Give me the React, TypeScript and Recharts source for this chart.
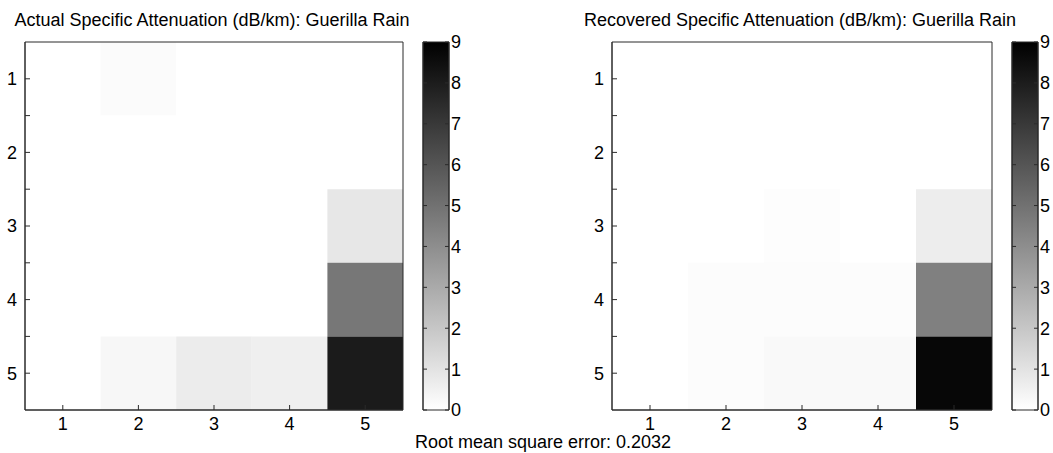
import { ComposedChart, XAxis, YAxis, Scatter, ReferenceArea } from 'recharts';

const cols = [1, 2, 3, 4, 5];
const rows = [1, 2, 3, 4, 5];
const halfTicks = [1, 1.5, 2, 2.5, 3, 3.5, 4, 4.5, 5];
const colorbarTicks = [0, 1, 2, 3, 4, 5, 6, 7, 8, 9];
const cMax = 9;

// dB/km, one row per y index
const actual = [
  [0, 0.15, 0, 0, 0],
  [0, 0, 0, 0, 0],
  [0, 0, 0, 0, 0.85],
  [0, 0, 0, 0, 4.8],
  [0, 0.28, 0.67, 0.56, 8.05],
];
const recovered = [
  [0, 0, 0, 0, 0],
  [0, 0, 0, 0, 0],
  [0, 0, 0.08, 0, 0.64],
  [0, 0.1, 0.1, 0.1, 4.48],
  [0, 0.1, 0.22, 0.22, 8.75],
];

const leftTitle = 'Actual Specific Attenuation (dB/km): Guerilla Rain';
const rightTitle = 'Recovered Specific Attenuation (dB/km): Guerilla Rain';
const rmseText = 'Root mean square error: 0.2032';

const font = '"Liberation Sans", Arial, sans-serif';
const frame = '#2b2b2b';
const tickFont = { fill: '#000', fontSize: 18 };

const gray = (v: number) => {
  const g = Math.round(255 * (1 - Math.min(v, cMax) / cMax));
  return `rgb(${g},${g},${g})`;
};

const noShape = () => <g />;

const Heatmap = ({ grid, rightMargin }: { grid: number[][]; rightMargin: number }) => {
  const cells = rows.flatMap((r, i) => cols.map((c, j) => ({ x: c, y: r, v: grid[i][j] })));
  return (
    <ComposedChart width={420} height={440} margin={{ top: 42, right: rightMargin, bottom: 5, left: 0 }}>
      <XAxis xAxisId="b" type="number" dataKey="x" domain={[0.5, 5.5]} ticks={cols} tickSize={-5} tickMargin={12}
        stroke={frame} tick={tickFont} height={25} />
      <XAxis xAxisId="t" orientation="top" type="number" dataKey="x" domain={[0.5, 5.5]} ticks={cols} tickSize={-5}
        stroke={frame} tickFormatter={() => ''} height={0} />
      <YAxis yAxisId="l" type="number" dataKey="y" domain={[0.5, 5.5]} reversed ticks={halfTicks} tickSize={-5}
        tickMargin={13} width={25} stroke={frame} tick={tickFont} interval={0}
        tickFormatter={(v: number) => (Number.isInteger(v) ? String(v) : '')} />
      <YAxis yAxisId="r" orientation="right" type="number" dataKey="y" domain={[0.5, 5.5]} reversed ticks={halfTicks}
        tickSize={-5} width={0} stroke={frame} interval={0} tickFormatter={() => ''} />
      {cells.map((d) => (
        <ReferenceArea key={`${d.x}-${d.y}`} xAxisId="b" yAxisId="l" x1={d.x - 0.5} x2={d.x + 0.5}
          y1={d.y - 0.5} y2={d.y + 0.5} fill={gray(d.v)} fillOpacity={1} stroke="none" />
      ))}
      <ReferenceArea xAxisId="b" yAxisId="l" x1={0.5} x2={5.5} y1={0.5} y2={5.5} fill="none" stroke={frame} />
      <Scatter xAxisId="b" yAxisId="l" data={cells} isAnimationActive={false} shape={noShape} />
      <Scatter xAxisId="t" yAxisId="r" data={cells} isAnimationActive={false} shape={noShape} />
    </ComposedChart>
  );
};

const Colorbar = ({ id }: { id: string }) => {
  const bar = [{ x: 0.5, y: 0 }, { x: 0.5, y: cMax }];
  return (
    <ComposedChart width={60} height={440} margin={{ top: 42, right: 0, bottom: 30, left: 0 }}>
      <defs>
        <linearGradient id={id} x1="0" y1="0" x2="0" y2="1">
          <stop offset="0%" stopColor="#000" />
          <stop offset="100%" stopColor="#fff" />
        </linearGradient>
      </defs>
      <XAxis xAxisId="c" type="number" dataKey="x" domain={[0, 1]} hide />
      <YAxis yAxisId="cl" type="number" dataKey="y" domain={[0, cMax]} ticks={colorbarTicks} tickSize={-4}
        width={5} stroke={frame} interval={0} tickFormatter={() => ''} />
      <YAxis yAxisId="cr" orientation="right" type="number" dataKey="y" domain={[0, cMax]} ticks={colorbarTicks}
        tickSize={-4} tickMargin={6} width={29} stroke={frame} tick={tickFont} interval={0} />
      <ReferenceArea xAxisId="c" yAxisId="cl" x1={0} x2={1} y1={0} y2={cMax} fill={`url(#${id})`}
        fillOpacity={1} stroke={frame} />
      <Scatter xAxisId="c" yAxisId="cl" data={bar} isAnimationActive={false} shape={noShape} />
      <Scatter xAxisId="c" yAxisId="cr" data={bar} isAnimationActive={false} shape={noShape} />
    </ComposedChart>
  );
};

const textStyle = {
  position: 'absolute' as const,
  fontSize: 18,
  lineHeight: '20px',
  whiteSpace: 'nowrap' as const,
  color: '#000',
  transform: 'translateX(-50%)',
};

export default function App() {
  return (
    <div style={{ position: 'absolute', left: 0, top: 0, width: 1053, height: 453, background: '#fff', fontFamily: font, overflow: 'hidden' }}>
      <div style={{ ...textStyle, left: 212, top: 10 }}>{leftTitle}</div>
      <div style={{ ...textStyle, left: 800, top: 10 }}>{rightTitle}</div>
      <div style={{ position: 'absolute', left: 0, top: 0 }}>
        <Heatmap grid={actual} rightMargin={17} />
      </div>
      <div style={{ position: 'absolute', left: 418, top: 0 }}>
        <Colorbar id="cbLeft" />
      </div>
      <div style={{ position: 'absolute', left: 587, top: 0 }}>
        <Heatmap grid={recovered} rightMargin={15} />
      </div>
      <div style={{ position: 'absolute', left: 1007, top: 0 }}>
        <Colorbar id="cbRight" />
      </div>
      <div style={{ ...textStyle, left: 543, top: 433, lineHeight: '18px' }}>{rmseText}</div>
    </div>
  );
}
